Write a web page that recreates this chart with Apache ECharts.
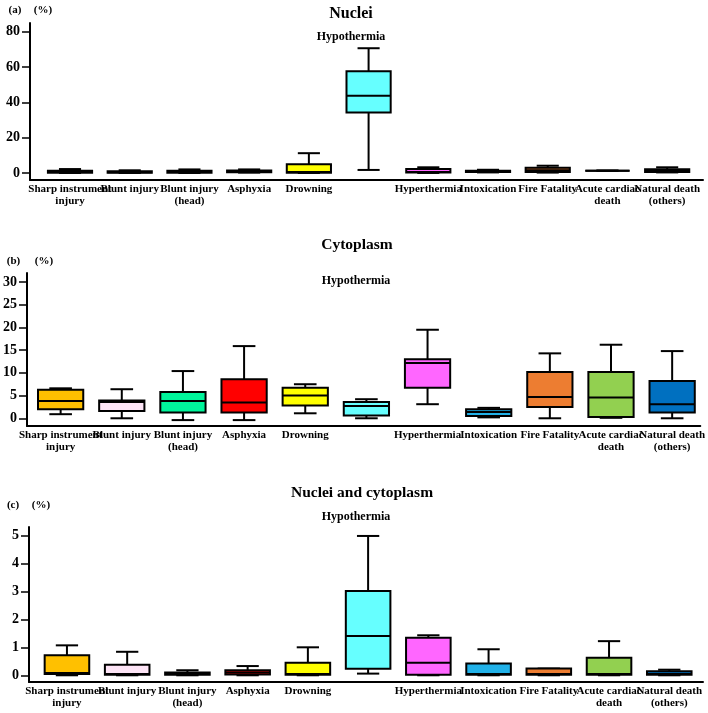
<!DOCTYPE html>
<html><head><meta charset="utf-8">
<script src="https://cdn.jsdelivr.net/npm/echarts@6/dist/echarts.min.js"></script>
<style>html,body{margin:0;padding:0;background:#fff}#c{width:708px;height:713px}</style>
</head><body><div id="c"></div>
<script>
// ---- data ----
const categories = ['Sharp instrument\ninjury', 'Blunt injury', 'Blunt injury\n(head)', 'Asphyxia', 'Drowning',
  'Hypothermia', 'Hyperthermia', 'Intoxication', 'Fire Fatality', 'Acute cardiac\ndeath', 'Natural death\n(others)'];
// [min, Q1, median, Q3, max]
const nucleiBox = [
  [0, 0.1, 0.5, 1.2, 2.2],
  [0, 0.1, 0.4, 1.0, 1.5],
  [0, 0.1, 0.5, 1.2, 2.0],
  [0.2, 0.4, 0.8, 1.4, 2.0],
  [0, 0.1, 0.5, 4.9, 11.2],
  [1.7, 34.2, 43.7, 57.7, 70.7],
  [0, 0.2, 0.5, 2.2, 3.2],
  [0.3, 0.6, 1.0, 1.3, 1.8],
  [0.2, 0.5, 1.5, 3.0, 4.1],
  [1.3, 1.3, 1.3, 1.3, 1.3],
  [0.3, 0.5, 1.2, 2.1, 3.2]
];
const cytoplasmBox = [
  [0.9, 2.0, 3.8, 6.3, 6.6],
  [0, 1.6, 3.6, 3.9, 6.4],
  [-0.4, 1.3, 3.8, 5.8, 10.4],
  [-0.4, 1.3, 3.5, 8.6, 15.9],
  [1.1, 2.8, 5.0, 6.7, 7.5],
  [0, 0.6, 2.7, 3.6, 4.2],
  [3.1, 6.7, 12.2, 13.0, 19.5],
  [0.2, 0.5, 1.4, 2.0, 2.3],
  [0, 2.5, 4.7, 10.2, 14.3],
  [0.1, 0.3, 4.6, 10.2, 16.2],
  [0, 1.3, 3.1, 8.2, 14.8]
];
const bothBox = [
  [0, 0.05, 0.08, 0.72, 1.07],
  [0, 0.02, 0.05, 0.38, 0.84],
  [0, 0.02, 0.05, 0.10, 0.18],
  [0, 0.03, 0.10, 0.18, 0.33],
  [0, 0.02, 0.05, 0.45, 1.00],
  [0.06, 0.23, 1.40, 3.01, 4.98],
  [0, 0.02, 0.45, 1.34, 1.43],
  [0, 0.02, 0.05, 0.42, 0.93],
  [0, 0.02, 0.05, 0.24, 0.24],
  [0, 0.02, 0.05, 0.63, 1.22],
  [0, 0.02, 0.05, 0.14, 0.20]
];
const ticksA = [0, 20, 40, 60, 80];
const ticksB = [0, 5, 10, 15, 20, 25, 30];
const ticksC = [0, 1, 2, 3, 4, 5];
const categoryIndex = categories.map((c, i) => i);

// ---- styles ----
const boxColors = ['#FFC000', '#FDE4F6', '#00F59B', '#FF0000', '#FFFF00', '#66FFFF',
  '#FF66FF', '#21B1E8', '#ED7D31', '#92D050', '#0070C0'];
const serif = '"Liberation Serif", "DejaVu Serif", serif';

function renderBox(params, api) {
  const i = api.value(0);
  const cx = api.coord([i, 0])[0];
  const y = k => api.coord([i, api.value(k)])[1];
  const band = api.size([1, 0])[0];
  const bw = band * 0.74, cap = bw * 0.5;
  const yMin = y(1), yQ1 = y(2), yMed = y(3), yQ3 = y(4), yMax = y(5);
  const ls = { stroke: '#000', lineWidth: 2 };
  return {
    type: 'group',
    children: [
      { type: 'line', shape: { x1: cx, y1: yMax, x2: cx, y2: yQ3 }, style: ls },
      { type: 'line', shape: { x1: cx - cap / 2, y1: yMax, x2: cx + cap / 2, y2: yMax }, style: ls },
      { type: 'line', shape: { x1: cx, y1: yMin, x2: cx, y2: yQ1 }, style: ls },
      { type: 'line', shape: { x1: cx - cap / 2, y1: yMin, x2: cx + cap / 2, y2: yMin }, style: ls },
      { type: 'rect', shape: { x: cx - bw / 2, y: yQ3, width: bw, height: yQ1 - yQ3 },
        style: { fill: boxColors[i], stroke: '#000', lineWidth: 2 } },
      { type: 'line', shape: { x1: cx - bw / 2, y1: yMed, x2: cx + bw / 2, y2: yMed }, style: ls }
    ]
  };
}

const grids = [
  { left: 30, right: 5, top: 23, height: 157 },
  { left: 27, right: 6, top: 273, height: 153 },
  { left: 29, right: 5, top: 527, height: 155 }
];
const xRanges = [[-0.67, 10.6], [-0.55, 10.46], [-0.63, 10.56]];
const yRanges = [[-4, 85], [-1.7, 32], [-0.24, 5.3]];
const yTicks = [ticksA, ticksB, ticksC];
const boxes = [nucleiBox, cytoplasmBox, bothBox];

// two bottom x-axes per panel: even-index labels on the first, odd-index labels on the second
function xAxisFor(k, parity) {
  return {
    type: 'value', gridIndex: k, position: 'bottom', offset: 0,
    min: xRanges[k][0], max: xRanges[k][1],
    splitLine: { show: false }, axisTick: { show: false },
    axisLine: { show: parity === 0, onZero: false, lineStyle: { color: '#000', width: 2 } },
    axisLabel: {
      customValues: categoryIndex.filter(i => i % 2 === parity), margin: 3,
      showMinLabel: true, showMaxLabel: true,
      formatter: v => { const c = categories[Math.round(v)]; return c === 'Hypothermia' ? '' : c; },
      fontFamily: serif, fontWeight: 'bold', fontSize: 11, lineHeight: 12, color: '#000'
    }
  };
}

const option = {
  backgroundColor: '#fff',
  animation: false,
  grid: grids,
  xAxis: [].concat(...grids.map((g, k) => [xAxisFor(k, 0), xAxisFor(k, 1)])),
  yAxis: grids.map((g, k) => ({
    type: 'value', gridIndex: k, min: yRanges[k][0], max: yRanges[k][1],
    splitLine: { show: false },
    axisLine: { show: true, onZero: false, lineStyle: { color: '#000', width: 2 } },
    axisTick: { show: true, customValues: yTicks[k], length: 8, lineStyle: { color: '#000', width: 1.5 } },
    axisLabel: { customValues: yTicks[k], margin: 10, showMinLabel: true, showMaxLabel: true,
      fontFamily: serif, fontWeight: 'bold', fontSize: 14, color: '#000' }
  })),
  series: boxes.map((b, k) => ({
    type: 'custom', xAxisIndex: 2 * k, yAxisIndex: k, clip: false,
    renderItem: renderBox,
    encode: { x: 0, y: [1, 2, 3, 4, 5] },
    data: b.map((v, i) => [i].concat(v))
  })),
  graphic: [
    ['(a)', 15, 10, 11], ['(%)', 43, 10, 11], ['Nuclei', 351, 14, 16], ['Hypothermia', 351, 37, 12],
    ['(b)', 13.5, 261, 11], ['(%)', 44, 261, 11], ['Cytoplasm', 357, 245, 15.5], ['Hypothermia', 356, 281, 12],
    ['(c)', 13, 505, 11], ['(%)', 41, 505, 11], ['Nuclei and cytoplasm', 362, 493, 15.5], ['Hypothermia', 356, 517, 12]
  ].map(t => ({
    type: 'text', x: t[1], y: t[2],
    style: { text: t[0], fill: '#000', align: 'center', verticalAlign: 'middle',
      font: 'bold ' + t[3] + 'px ' + serif }
  }))
};

const chart = echarts.init(document.getElementById('c'));
chart.setOption(option);
</script>
</body></html>
